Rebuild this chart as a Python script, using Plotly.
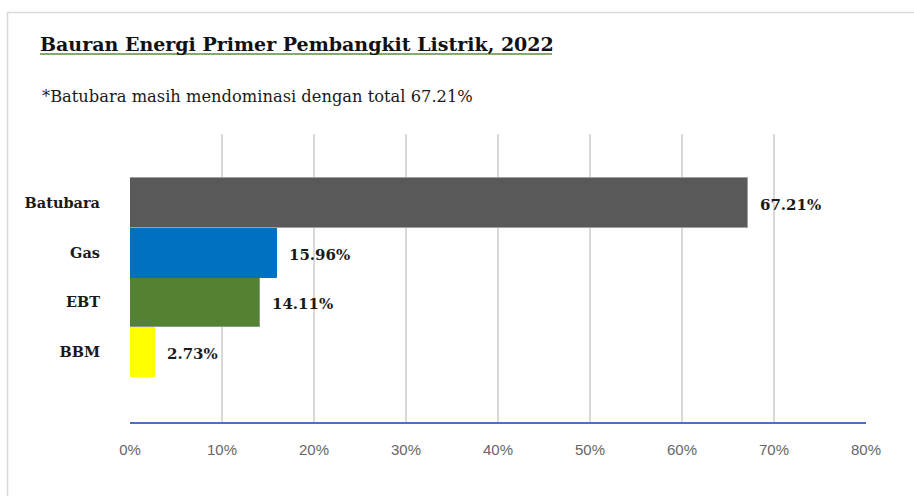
import plotly.graph_objects as go

categories = ["BBM", "EBT", "Gas", "Batubara"]
values = [2.73, 14.11, 15.96, 67.21]
colors = ["#FFFF00", "#548235", "#0070C0", "#595959"]
edge_colors = ["#FFFF00", "#8a9a80", "#0070C0", "#a0a0a0"]
x_ticks = [0, 10, 20, 30, 40, 50, 60, 70, 80]
x_tick_labels = [f"{t}%" for t in x_ticks]
title_text = "Bauran Energi Primer Pembangkit Listrik, 2022"
subtitle_text = "*Batubara masih mendominasi dengan total 67.21%"

W, H = 914, 496
L, R, T, B = 130, 48, 134, 74
pw, ph = W - L - R, H - T - B

def px_x(p):
    return (p - L) / pw

def px_y(p):
    return (H - B - p) / ph

fig = go.Figure()
fig.add_trace(go.Bar(
    y=categories, x=values, orientation="h",
    marker=dict(color=colors, line=dict(color=edge_colors, width=1)),
    width=1.0, hoverinfo="skip",
))

serif = "DejaVu Serif, Liberation Serif, serif"

for c, v in zip(categories, values):
    fig.add_annotation(x=v, y=c, xref="x", yref="y", text=f"<b>{v:.2f}%</b>",
                       showarrow=False, xanchor="left", yanchor="middle",
                       xshift=10, yshift=-2,
                       font=dict(family=serif, size=15, color="#1a1a1a"))

fig.add_annotation(x=px_x(40), y=px_y(97), xref="paper", yref="paper",
                   text=subtitle_text, showarrow=False, xanchor="left", yanchor="middle",
                   font=dict(family=serif, size=16.3, color="#1a1a1a"))

# chart border
fig.add_shape(type="rect", xref="paper", yref="paper",
              x0=px_x(7.5), x1=px_x(930), y0=px_y(520), y1=px_y(12.5),
              line=dict(color="#d9d9d9", width=1.5), layer="below")
# title underline
fig.add_shape(type="line", xref="paper", yref="paper",
              x0=px_x(40), x1=px_x(552), y0=px_y(54), y1=px_y(54),
              line=dict(color="#5a8f3a", width=1.5))

fig.update_layout(
    width=W, height=H,
    margin=dict(l=L, r=R, t=T, b=B, autoexpand=False),
    paper_bgcolor="white", plot_bgcolor="white",
    showlegend=False, bargap=0,
    title=dict(text=f"<b>{title_text}</b>", x=40 / W, xanchor="left",
               xref="container", y=1 - 44 / H, yref="container", yanchor="middle",
               font=dict(family=serif, size=19, color="#111111")),
    xaxis=dict(range=[0, 80], tickvals=x_ticks, ticktext=x_tick_labels,
               showgrid=True, gridcolor="#d9d9d9", gridwidth=2,
               zeroline=False, showline=True, linecolor="#4472C4", linewidth=2,
               ticks="", ticklabelstandoff=13,
               tickfont=dict(family="Liberation Sans Narrow, Liberation Sans, sans-serif",
                             size=15, color="#666666")),
    yaxis=dict(type="category", categoryarray=categories, range=[-1.4, 4.38],
               showgrid=False, zeroline=False, showline=False, ticks="",
               ticklabelstandoff=29,
               tickfont=dict(family=serif, size=14.5, color="#1a1a1a", weight="bold")),
)

fig.write_html("out.html", config={"displayModeBar": False},
               post_script="document.body.style.margin='0';document.body.style.overflow='hidden';")
